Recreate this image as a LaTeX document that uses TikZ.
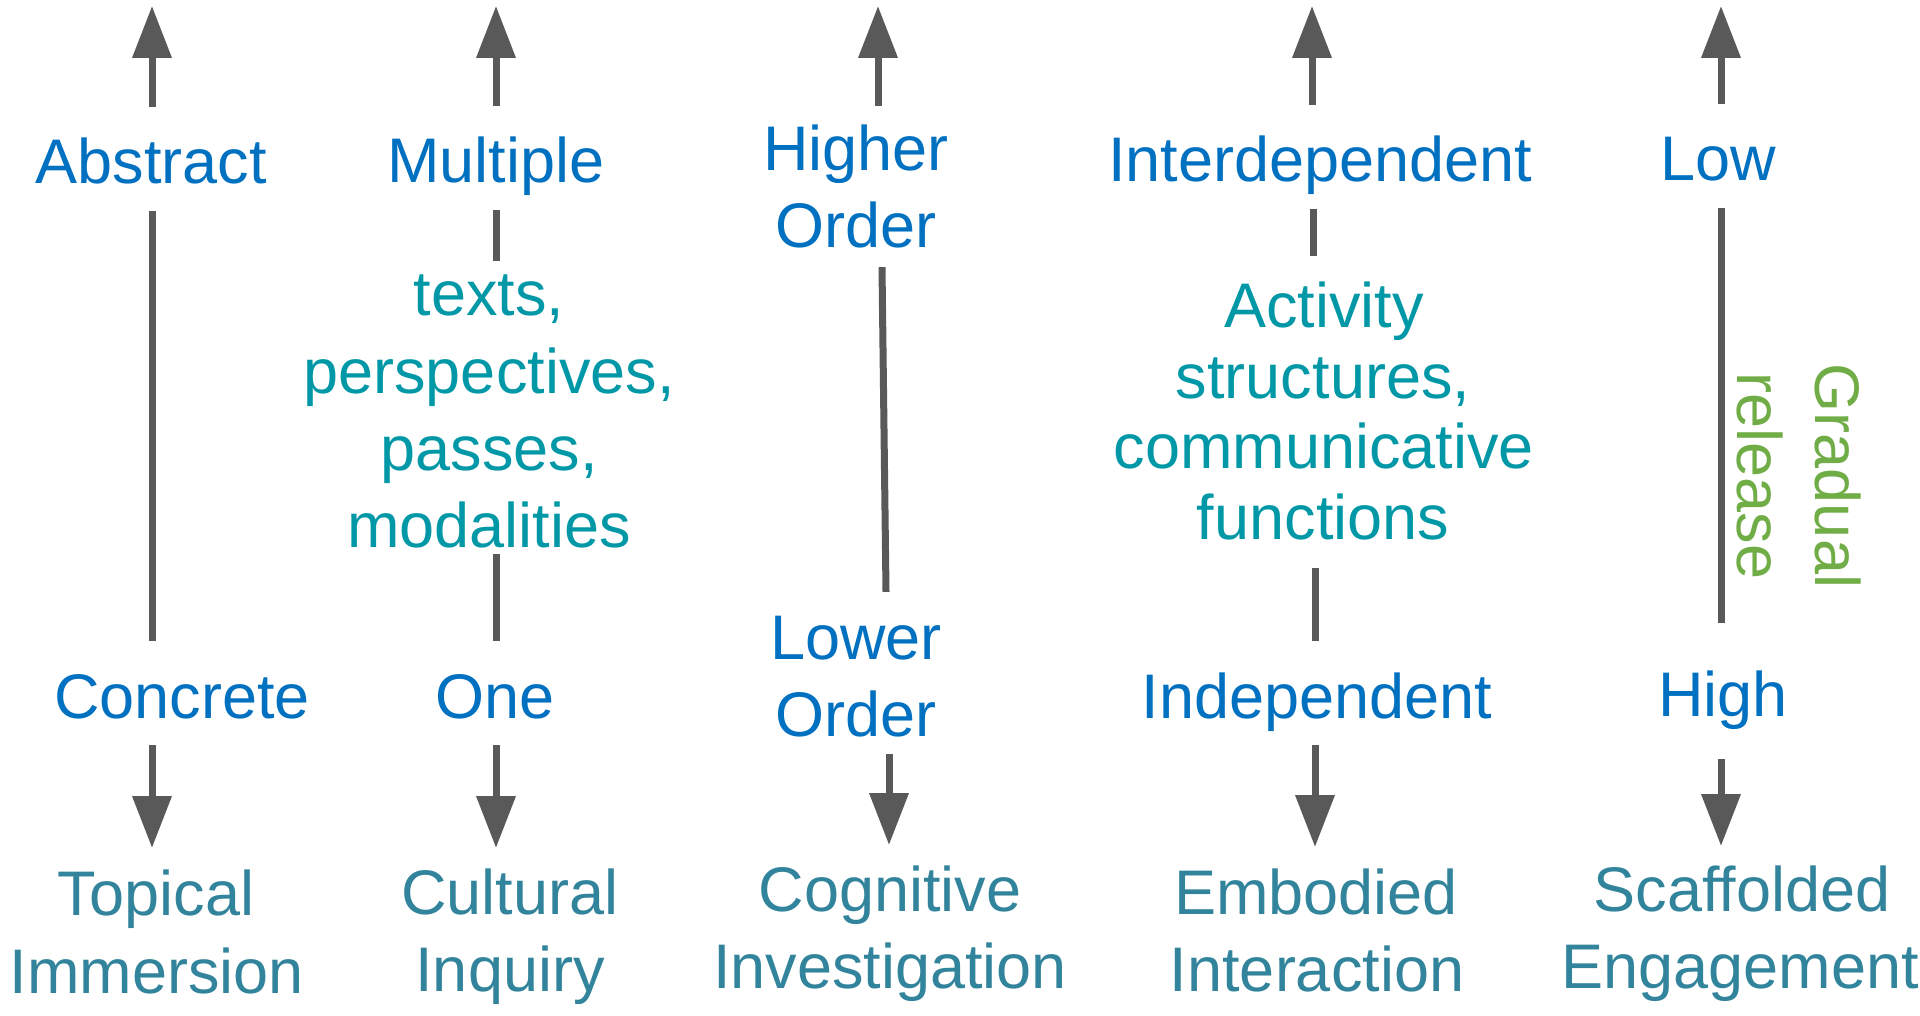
\documentclass[tikz,border=0pt]{standalone}
\usepackage{fontspec}
\setmainfont{Liberation Sans}
\usetikzlibrary{arrows.meta}
\definecolor{lblue}{HTML}{0070C0}
\definecolor{mteal}{HTML}{0098A6}
\definecolor{bteal}{HTML}{31849B}
\definecolor{ggreen}{HTML}{70AD47}
\definecolor{agray}{HTML}{595959}
\tikzset{
  lab/.style={font=\fontsize{63}{77}\selectfont, text height=50pt, text depth=0pt,
    inner xsep=0pt, inner ysep=27pt, anchor=base},
  axlab/.style={lab, text=lblue},
  midlab/.style={lab, text=mteal, inner ysep=6pt},
  botlab/.style={lab, text=bteal},
  gradlab/.style={lab, text=ggreen, rotate=-90},
  seg/.style={draw=agray, line width=7pt},
  arr/.style={seg, -{Triangle[length=52pt,width=38pt]}},
}
\begin{document}
\begin{tikzpicture}[x=1pt,y=-1pt]
\fill[white] (0,0) rectangle (1920,1016);
\useasboundingbox (0,0) rectangle (1920,1016);

% axis end points
\coordinate (t1) at (152,6);   \coordinate (b1) at (152,848);
\coordinate (t2) at (496,6);   \coordinate (b2) at (496,848);
\coordinate (t3) at (878,6);   \coordinate (b3) at (889,845);
\coordinate (t4) at (1312,6);  \coordinate (b4) at (1315,847);
\coordinate (t5) at (1721,6);  \coordinate (b5) at (1721,846);

% column 1
\node[axlab] (abstract) at (151,184) {Abstract};
\node[axlab] (concrete) at (182,718) {Concrete};
\node[botlab] (topical) at (156,915) {Topical};
\node[botlab] (immersion) at (157,993) {Immersion};

% column 2
\node[axlab] (multiple) at (496,183) {Multiple};
\node[midlab, inner ysep=5pt] (texts) at (489,316) {texts,};
\node[midlab] (persp) at (489,393) {perspectives,};
\node[midlab] (passes) at (489,470) {passes,};
\node[midlab, inner ysep=7pt] (modal) at (489,547) {modalities};
\node[axlab] (one) at (495,718) {One};
\node[botlab] (cultural) at (510,914) {Cultural};
\node[botlab] (inquiry) at (510,991) {Inquiry};

% column 3
\node[axlab, inner ysep=15pt] (higher) at (856,171) {Higher};
\node[axlab, inner ysep=19pt] (order1) at (856,248) {Order};
\node[axlab, inner ysep=17pt] (lower) at (856,659) {Lower};
\node[axlab, inner ysep=18pt] (order2) at (856,736) {Order};
\node[botlab] (cognitive) at (890,911) {Cognitive};
\node[botlab] (investigation) at (890,988) {Investigation};

% column 4
\node[axlab] (interdep) at (1320,182) {Interdependent};
\node[midlab, inner ysep=22pt] (activity) at (1324,328) {Activity};
\node[midlab] (structures) at (1323,398) {structures,};
\node[midlab] (communicative) at (1324,468) {communicative};
\node[midlab, inner ysep=29pt] (functions) at (1323,539) {functions};
\node[axlab] (independent) at (1317,718) {Independent};
\node[botlab] (embodied) at (1316,914) {Embodied};
\node[botlab] (interaction) at (1317,991) {Interaction};

% column 5
\node[axlab] (low) at (1718,181) {Low};
\node[axlab, inner ysep=43pt] (high) at (1723,716) {High};
\node[botlab] (scaffolded) at (1742,911) {Scaffolded};
\node[botlab] (engagement) at (1740,988) {Engagement};
\node[gradlab] (gradual) at (1815,476) {Gradual};
\node[gradlab] (release) at (1737,476) {release};

% connectors column 1
\draw[arr] (t1 |- abstract.north) -- (t1);
\draw[seg] (t1 |- abstract.south) -- (t1 |- concrete.north);
\draw[arr] (b1 |- concrete.south) -- (b1);
% column 2
\draw[arr] (t2 |- multiple.north) -- (t2);
\draw[seg] (t2 |- multiple.south) -- (t2 |- texts.north);
\draw[seg] (b2 |- modal.south) -- (b2 |- one.north);
\draw[arr] (b2 |- one.south) -- (b2);
% column 3
\draw[arr] (t3 |- higher.north) -- (t3);
\draw[seg] ([xshift=26pt]order1.south) -- ([xshift=30pt]lower.north);
\draw[arr] (b3 |- order2.south) -- (b3);
% column 4
\draw[arr] (t4 |- interdep.north) -- (t4);
\draw[seg] ([xshift=1pt]t4 |- interdep.south) -- ([xshift=1pt]t4 |- activity.north);
\draw[seg] (b4 |- functions.south) -- (b4 |- independent.north);
\draw[arr] (b4 |- independent.south) -- (b4);
% column 5
\draw[arr] (t5 |- low.north) -- (t5);
\draw[seg] (t5 |- low.south) -- (t5 |- high.north);
\draw[arr] (b5 |- high.south) -- (b5);
\end{tikzpicture}
\end{document}
